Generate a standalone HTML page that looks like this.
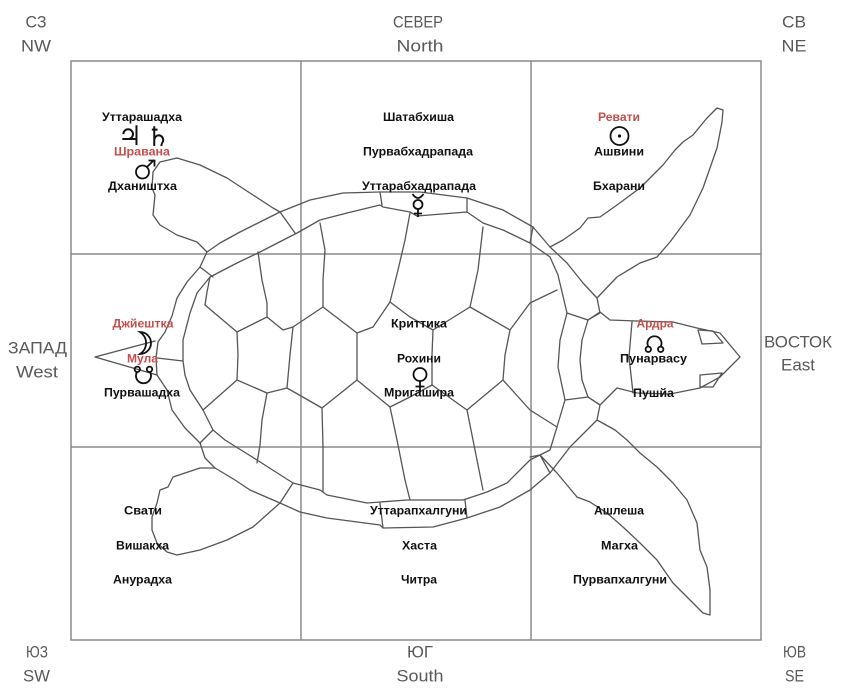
<!DOCTYPE html>
<html><head><meta charset="utf-8"><style>
html,body{margin:0;padding:0;background:#fff;}
svg{display:block;}
.c{font-family:"Liberation Sans",sans-serif;font-size:17px;fill:#595959;}
.n{font-family:"Liberation Sans",sans-serif;font-size:12px;font-weight:bold;fill:#111;}
.r{fill:#c0504d;}
.t{fill:none;stroke:#555;stroke-width:1.3;stroke-linejoin:round;stroke-linecap:round;}
.s{fill:none;stroke:#111;stroke-width:1.8;}
.g{font-family:"DejaVu Sans",sans-serif;font-size:27px;fill:#111;}
</style></head><body>
<svg width="850" height="692" viewBox="0 0 850 692" xmlns="http://www.w3.org/2000/svg">
<rect width="850" height="692" fill="#fff"/>
<!-- grid -->
<g fill="none" stroke="#8a8a8a" stroke-width="1.5">
<rect x="71" y="61" width="690" height="579"/>
<line x1="301" y1="61" x2="301" y2="640"/>
<line x1="531" y1="61" x2="531" y2="640"/>
<line x1="71" y1="254" x2="761" y2="254"/>
<line x1="71" y1="447" x2="761" y2="447"/>
</g>
<!-- turtle -->
<g class="t">
<polygon points="156,358 158,342 165,332 172,316 177,298 187,282 200,267 207,252 220,243 240,232 260,222 280,212 310,200 343,193 380,192 420,192 467,198 503,210 533,227 550,247 567,263 583,283 597,298 600,313 588,320 582,340 580,360 582,380 588,397 600,405 597,420 585,432 570,447 550,473 530,490 500,507 467,518 433,527 383,528 380,525 327,518 300,512 280,503 250,490 235,480 215,468 205,458 200,443 185,428 172,410 167,390 157,375"/>
<polygon points="183,361 183,340 190,313 197,293 210,277 237,263 260,252 297,233 320,220 347,213 380,205 383,207 410,212 417,216 467,212 483,223 503,230 530,243 550,257 558,275 567,313 560,340 558,367 565,400 557,427 550,450 530,460 507,483 487,492 463,500 407,500 367,503 327,495 320,490 293,483 257,460 225,440 213,430 203,410 190,390 185,375"/>
<!-- scutes -->
<polyline points="258,252 262,280 267,303 267,317"/>
<polyline points="210,277 207,292 205,305 237,332 267,317 283,330 293,327"/>
<polyline points="237,332 238,355 237,380 203,410"/>
<polyline points="237,380 267,393 287,388"/>
<polyline points="267,393 262,420 260,445 257,463"/>
<polyline points="293,327 290,355 287,388 322,408 323,447 323,492"/>
<polyline points="320,223 325,250 323,280 323,307 293,327"/>
<polyline points="323,307 357,333 357,380 322,408"/>
<polyline points="357,333 373,327 390,302 398,270 405,240 410,213"/>
<polyline points="390,302 410,317 433,330 470,307 478,270 483,227"/>
<polyline points="470,307 510,330 505,355 503,380 467,410 432,385"/>
<polyline points="433,330 432,355 432,385 410,397 390,407 357,380"/>
<polyline points="390,407 397,440 405,480 410,500"/>
<polyline points="467,410 475,450 483,490"/>
<polyline points="510,330 530,303 557,290"/>
<polyline points="503,380 530,410 557,427"/>
<!-- ring dividers -->
<line x1="200" y1="267" x2="213" y2="277"/>
<line x1="280" y1="212" x2="295" y2="233"/>
<line x1="380" y1="192" x2="382" y2="205"/>
<line x1="467" y1="198" x2="467" y2="212"/>
<line x1="533" y1="227" x2="530" y2="243"/>
<line x1="567" y1="313" x2="588" y2="320"/>
<line x1="565" y1="400" x2="588" y2="397"/>
<line x1="550" y1="473" x2="540" y2="455"/>
<line x1="467" y1="518" x2="465" y2="500"/>
<line x1="383" y1="528" x2="380" y2="503"/>
<line x1="280" y1="503" x2="293" y2="483"/>
<line x1="200" y1="443" x2="213" y2="430"/>
<line x1="157" y1="358" x2="183" y2="361"/>
<!-- tail -->
<polyline points="155,341 95,357 133,368 157,375"/>
<!-- flippers -->
<polyline points="207,252 197,242 177,235 160,225 153,215 155,195 152,188 153,172 160,162 177,158 200,165 227,178 253,195 273,208 280,212"/>
<polyline points="550,247 563,240 580,228 588,218 600,217 617,205 640,188 663,165 675,150 683,142 693,135 707,118 717,108 723,110 722,122 717,148 703,188 690,215 670,242 657,257 640,263 617,277 597,298"/>
<polyline points="215,468 200,468 173,477 168,487 160,490 157,503 152,517 152,530 157,543 167,552 177,555 200,550 227,540 253,527 280,503"/>
<polyline points="597,420 615,430 627,440 640,453 657,467 673,483 687,500 697,523 700,550 707,567 710,590 710,615 703,613 693,603 673,583 657,560 640,543 623,527 607,513 590,502 577,497 557,473 540,455 530,457"/>
<!-- head -->
<polyline points="588,320 600,312 610,320 637,321 673,322 697,328 720,333 740,357 720,377 700,388 670,394 637,393 617,388 600,405 588,397"/>
<polyline points="632,322 629,357 633,393"/>
<polygon points="698,330 713,331 723,343 702,344"/>
<polygon points="700,375 722,373 713,387 700,387"/>
</g>
<!-- compass labels -->
<text class="c" x="36" y="27.5" text-anchor="middle" textLength="21" lengthAdjust="spacingAndGlyphs">СЗ</text>
<text class="c" x="36" y="51.5" text-anchor="middle" textLength="30" lengthAdjust="spacingAndGlyphs">NW</text>
<text class="c" x="418" y="27.5" text-anchor="middle" textLength="50" lengthAdjust="spacingAndGlyphs">СЕВЕР</text>
<text class="c" x="420" y="51.5" text-anchor="middle" textLength="47" lengthAdjust="spacingAndGlyphs">North</text>
<text class="c" x="794" y="27.5" text-anchor="middle" textLength="24" lengthAdjust="spacingAndGlyphs">СВ</text>
<text class="c" x="794" y="51.5" text-anchor="middle" textLength="25" lengthAdjust="spacingAndGlyphs">NE</text>
<text class="c" x="37.5" y="353.5" text-anchor="middle" textLength="59" lengthAdjust="spacingAndGlyphs">ЗАПАД</text>
<text class="c" x="37" y="377.5" text-anchor="middle" textLength="42" lengthAdjust="spacingAndGlyphs">West</text>
<text class="c" x="798" y="347.5" text-anchor="middle" textLength="68" lengthAdjust="spacingAndGlyphs">ВОСТОК</text>
<text class="c" x="798" y="370.5" text-anchor="middle" textLength="34" lengthAdjust="spacingAndGlyphs">East</text>
<text class="c" x="37" y="657.5" text-anchor="middle" textLength="22" lengthAdjust="spacingAndGlyphs">ЮЗ</text>
<text class="c" x="36.5" y="681.5" text-anchor="middle" textLength="27" lengthAdjust="spacingAndGlyphs">SW</text>
<text class="c" x="420" y="657.5" text-anchor="middle" textLength="26" lengthAdjust="spacingAndGlyphs">ЮГ</text>
<text class="c" x="420" y="681.5" text-anchor="middle" textLength="47" lengthAdjust="spacingAndGlyphs">South</text>
<text class="c" x="794.5" y="657.5" text-anchor="middle" textLength="23" lengthAdjust="spacingAndGlyphs">ЮВ</text>
<text class="c" x="794.5" y="681.5" text-anchor="middle" textLength="19" lengthAdjust="spacingAndGlyphs">SE</text>
<!-- nakshatra labels -->
<text class="n" x="142" y="121" text-anchor="middle" textLength="80" lengthAdjust="spacingAndGlyphs">Уттарашадха</text>
<text class="n r" x="142" y="155.5" text-anchor="middle" textLength="56" lengthAdjust="spacingAndGlyphs">Шравана</text>
<text class="n" x="142.5" y="190" text-anchor="middle" textLength="69" lengthAdjust="spacingAndGlyphs">Дхаништха</text>
<text class="n" x="418.5" y="121" text-anchor="middle" textLength="71" lengthAdjust="spacingAndGlyphs">Шатабхиша</text>
<text class="n" x="418" y="155.5" text-anchor="middle" textLength="110" lengthAdjust="spacingAndGlyphs">Пурвабхадрапада</text>
<text class="n" x="419" y="190" text-anchor="middle" textLength="114" lengthAdjust="spacingAndGlyphs">Уттарабхадрапада</text>
<text class="n r" x="619" y="121" text-anchor="middle" textLength="42" lengthAdjust="spacingAndGlyphs">Ревати</text>
<text class="n" x="619" y="155.5" text-anchor="middle" textLength="50" lengthAdjust="spacingAndGlyphs">Ашвини</text>
<text class="n" x="619" y="190" text-anchor="middle" textLength="52" lengthAdjust="spacingAndGlyphs">Бхарани</text>
<text class="n r" x="143" y="327.5" text-anchor="middle" textLength="61" lengthAdjust="spacingAndGlyphs">Джйештка</text>
<text class="n r" x="142.5" y="362.5" text-anchor="middle" textLength="31" lengthAdjust="spacingAndGlyphs">Мула</text>
<text class="n" x="142" y="396.5" text-anchor="middle" textLength="76" lengthAdjust="spacingAndGlyphs">Пурвашадха</text>
<text class="n" x="419" y="327.5" text-anchor="middle" textLength="56" lengthAdjust="spacingAndGlyphs">Криттика</text>
<text class="n" x="419" y="362.5" text-anchor="middle" textLength="44" lengthAdjust="spacingAndGlyphs">Рохини</text>
<text class="n" x="419" y="396.5" text-anchor="middle" textLength="70" lengthAdjust="spacingAndGlyphs">Мригашира</text>
<text class="n r" x="655" y="327.5" text-anchor="middle" textLength="37" lengthAdjust="spacingAndGlyphs">Ардра</text>
<text class="n" x="653.5" y="362.5" text-anchor="middle" textLength="67" lengthAdjust="spacingAndGlyphs">Пунарвасу</text>
<text class="n" x="653.5" y="397" text-anchor="middle" textLength="41" lengthAdjust="spacingAndGlyphs">Пушйа</text>
<text class="n" x="143" y="514.5" text-anchor="middle" textLength="38" lengthAdjust="spacingAndGlyphs">Свати</text>
<text class="n" x="142.5" y="549.5" text-anchor="middle" textLength="53" lengthAdjust="spacingAndGlyphs">Вишакха</text>
<text class="n" x="142.5" y="583.5" text-anchor="middle" textLength="59" lengthAdjust="spacingAndGlyphs">Анурадха</text>
<text class="n" x="418.5" y="514.5" text-anchor="middle" textLength="97" lengthAdjust="spacingAndGlyphs">Уттарапхалгуни</text>
<text class="n" x="419.5" y="549.5" text-anchor="middle" textLength="35" lengthAdjust="spacingAndGlyphs">Хаста</text>
<text class="n" x="419" y="583.5" text-anchor="middle" textLength="36" lengthAdjust="spacingAndGlyphs">Читра</text>
<text class="n" x="619" y="514.5" text-anchor="middle" textLength="50" lengthAdjust="spacingAndGlyphs">Ашлеша</text>
<text class="n" x="619.5" y="549.5" text-anchor="middle" textLength="37" lengthAdjust="spacingAndGlyphs">Магха</text>
<text class="n" x="620" y="583.5" text-anchor="middle" textLength="94" lengthAdjust="spacingAndGlyphs">Пурвапхалгуни</text>
<!-- planet symbols -->
<text class="g" x="130" y="145" text-anchor="middle">♃</text>
<text class="g" x="158" y="146" text-anchor="middle">♄</text>
<!-- Mars -->
<circle class="s" cx="142.5" cy="172" r="6.5"/>
<path class="s" d="M147,167 L154,160 M148.5,160.5 L154.5,160.5 L154.5,166.5"/>
<!-- Mercury -->
<path class="s" d="M412.5,194 Q418,202 423.5,194"/>
<circle class="s" cx="418" cy="204.5" r="4.5"/>
<path class="s" d="M418,209 L418,217 M414,213.5 L422,213.5"/>
<!-- Sun -->
<circle class="s" cx="619.5" cy="136" r="9"/>
<circle cx="619.5" cy="136" r="1.6" fill="#111"/>
<!-- Moon -->
<path class="s" stroke-width="1.6" d="M140,332 A11,11 0 0 1 140,354 A13,13 0 0 0 140,332 Z"/>
<!-- Ketu -->
<path class="s" d="M137,372 A7.5,7.5 0 1 0 150,372"/>
<circle class="s" stroke-width="1.5" cx="137.3" cy="369.3" r="2.7"/>
<circle class="s" stroke-width="1.5" cx="149.5" cy="369.3" r="2.7"/>
<!-- Venus -->
<circle class="s" cx="420" cy="374.5" r="6.5"/>
<path class="s" d="M420,381 L420,392 M415.5,386.5 L424.5,386.5"/>
<!-- Rahu -->
<path class="s" d="M648.3,346.5 A7,7 0 1 1 660.7,346.5"/>
<circle class="s" stroke-width="1.5" cx="648.3" cy="349.3" r="2.7"/>
<circle class="s" stroke-width="1.5" cx="660.7" cy="349.3" r="2.7"/>
</svg>
</body></html>
